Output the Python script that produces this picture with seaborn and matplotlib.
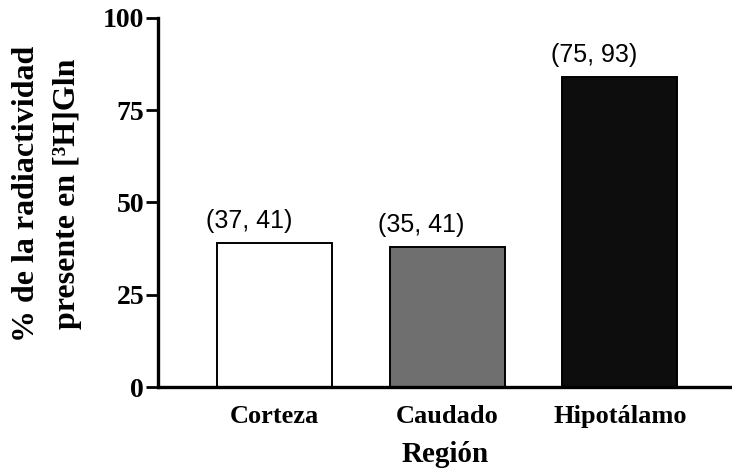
import matplotlib
matplotlib.use("Agg")
import matplotlib.pyplot as plt
import pandas as pd
import seaborn as sns

# Chart data
regions = ["Corteza", "Caudado", "Hipotálamo"]
percent = [39, 38, 84]
ranges = ["(37, 41)", "(35, 41)", "(75, 93)"]
bar_colors = ["#ffffff", "#6f6f6f", "#0d0d0d"]
y_ticks = [0, 25, 50, 75, 100]

df = pd.DataFrame({"Region": regions, "Pct": percent})

sns.set_style("ticks")
plt.rcParams["font.family"] = ["Liberation Serif", "DejaVu Serif"]
for key in ["text.color", "axes.labelcolor", "xtick.color", "ytick.color", "axes.edgecolor"]:
    plt.rcParams[key] = "black"

fig = plt.figure(figsize=(7.32, 4.68), dpi=100)
ax = fig.add_axes([0.216, 0.173, 0.784, 0.789])

sns.barplot(data=df, x="Region", y="Pct", hue="Region", palette=bar_colors,
            width=0.667, edgecolor="black", linewidth=1.4, legend=False, ax=ax)

# range labels above each bar (sans serif, slightly left of centre)
for i, (v, lab) in enumerate(zip(percent, ranges)):
    ax.text(i - 0.15, v + 6, lab, ha="center", va="center", color="black",
            fontsize=18, family=["Liberation Sans", "DejaVu Sans"])

ax.set_ylim(0, 100)
ax.set_xlim(-0.675, 2.65)
ax.set_yticks(y_ticks)
ax.set_yticklabels([str(t) for t in y_ticks], fontsize=20, fontweight="bold")
ax.tick_params(axis="y", length=9, width=2, pad=1)
ax.tick_params(axis="x", length=0, pad=13, labelsize=19)
for lbl in ax.get_xticklabels():
    lbl.set_fontweight("bold")

ax.set_xlabel("Región", fontsize=21, fontweight="bold", labelpad=9)
ax.set_ylabel("")

sns.despine(ax=ax)
ax.spines["left"].set_linewidth(2.4)
ax.spines["bottom"].set_linewidth(2.4)

# two-line y label
fig.text(0.036, 0.585, "% de la radiactividad", rotation=90, ha="center", va="center",
         fontsize=23, fontweight="bold")
fig.text(0.092, 0.585, "presente en [³H]Gln", rotation=90, ha="center", va="center",
         fontsize=23, fontweight="bold")

fig.savefig("out.png", dpi=100)
